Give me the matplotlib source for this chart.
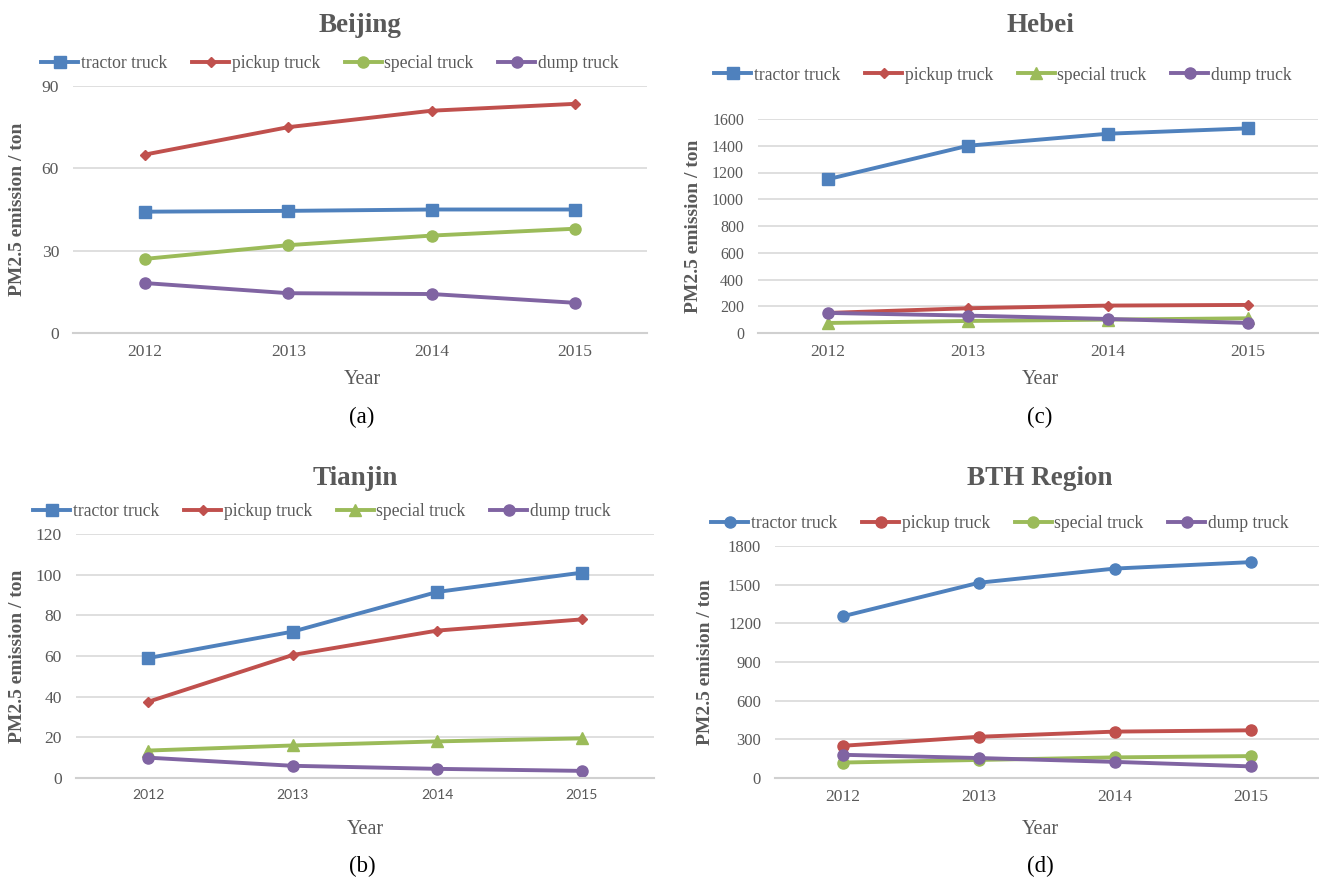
import matplotlib
matplotlib.use("Agg")
import matplotlib.pyplot as plt

plt.rcParams['font.family'] = ['Liberation Serif', 'DejaVu Serif']

years = ['2012', '2013', '2014', '2015']
labels = ['tractor truck', 'pickup truck', 'special truck', 'dump truck']
colors = ['#4F81BD', '#C0504D', '#9BBB59', '#8064A2']

beijing = [
    [44.2, 44.5, 45.0, 45.0],
    [65.0, 75.0, 81.0, 83.5],
    [27.0, 32.0, 35.5, 38.0],
    [18.2, 14.5, 14.2, 11.0],
]
hebei = [
    [1150, 1400, 1490, 1530],
    [150, 185, 205, 210],
    [75, 90, 100, 110],
    [150, 130, 105, 75],
]
tianjin = [
    [59.0, 72.0, 91.5, 101.0],
    [37.5, 60.5, 72.5, 78.0],
    [13.5, 16.0, 18.0, 19.5],
    [10.0, 6.0, 4.5, 3.5],
]
bth = [
    [1255, 1515, 1625, 1675],
    [250, 320, 360, 370],
    [120, 140, 160, 170],
    [180, 155, 125, 90],
]

W, H = 1319, 881
fig = plt.figure(figsize=(W / 100, H / 100), dpi=100)
GRAY = '#595959'


def px_axes(left, top, right, bottom):
    return fig.add_axes([left / W, 1 - bottom / H, (right - left) / W, (bottom - top) / H])


def panel(box, data, markers, msizes, title, tpos, ymax, ystep, ylabel, ylab_x,
          leg_pos, year_pos, letter, letter_pos, xfs=12.6, yfs=12.6, xfont=None):
    ax = px_axes(*box)
    x = range(len(years))
    for i in range(4):
        ax.plot(x, data[i], color=colors[i], lw=2.8, marker=markers[i],
                ms=msizes[i], label=labels[i])
    ax.set_xlim(-0.5, 3.5)
    ax.set_ylim(0, ymax)
    ax.set_yticks(range(0, ymax + 1, ystep))
    ax.set_xticks(list(x))
    ax.set_xticklabels(years)
    if xfont:
        for t in ax.get_xticklabels():
            t.set_family(xfont)
    ax.grid(axis='y', color='#D9D9D9', lw=1.2)
    ax.set_axisbelow(True)
    for s in ['top', 'right', 'left']:
        ax.spines[s].set_visible(False)
    ax.spines['bottom'].set_color('#D0D0D0')
    ax.spines['bottom'].set_linewidth(1.5)
    ax.tick_params(length=0, colors=GRAY)
    ax.tick_params(axis='x', labelsize=xfs, pad=8)
    ax.tick_params(axis='y', labelsize=yfs, pad=10)
    fig.text(ylab_x / W, 1 - (box[1] + box[3]) / 2 / H, ylabel, rotation=90,
             ha='center', va='center', fontsize=14, fontweight='bold', color=GRAY)
    fig.text(tpos[0] / W, 1 - tpos[1] / H, title, ha='center', va='center',
             fontsize=19.5, fontweight='bold', color=GRAY)
    fig.text(year_pos[0] / W, 1 - year_pos[1] / H, 'Year', ha='center', va='center',
             fontsize=14.5, color=GRAY)
    fig.text(letter_pos[0] / W, 1 - letter_pos[1] / H, letter, ha='center', va='center',
             fontsize=16.5, color='black')
    h, l = ax.get_legend_handles_labels()
    leg = fig.legend(h, l, loc='center', bbox_to_anchor=(leg_pos[0] / W, 1 - leg_pos[1] / H),
                     ncol=4, frameon=False, fontsize=12.7, handlelength=2.1,
                     handletextpad=0.15, columnspacing=1.4, borderaxespad=0)
    for t in leg.get_texts():
        t.set_color(GRAY)
    return ax


panel((73, 86, 647, 333), beijing, ['s', 'D', 'o', 'o'], [8, 5.5, 8, 8], 'Beijing', (360, 25),
      90, 30, 'PM2.5 emission / ton', 18, (330, 64), (362, 379), '(a)', (362, 417))
panel((758, 119, 1318, 333), hebei, ['s', 'D', '^', 'o'], [8, 5.5, 8, 8], 'Hebei', (1040, 25),
      1600, 200, 'PM2.5 emission / ton', 693, (1003, 75), (1040, 379), '(c)', (1040, 417),
      yfs=11.5)
panel((76, 534, 654, 778), tianjin, ['s', 'D', '^', 'o'], [8, 5.5, 8, 8], 'Tianjin', (355, 478),
      120, 20, 'PM2.5 emission / ton', 18, (322, 512), (365, 829), '(b)', (362, 866),
      xfs=10, yfs=12.6, xfont='Lato')
panel((775, 546, 1319, 778), bth, ['o', 'o', 'o', 'o'], [8, 8, 8, 8], 'BTH Region', (1040, 478),
      1800, 300, 'PM2.5 emision / ton', 705, (1000, 524), (1040, 829), '(d)', (1040, 866),
      yfs=12)

fig.savefig('out.png', dpi=100)
